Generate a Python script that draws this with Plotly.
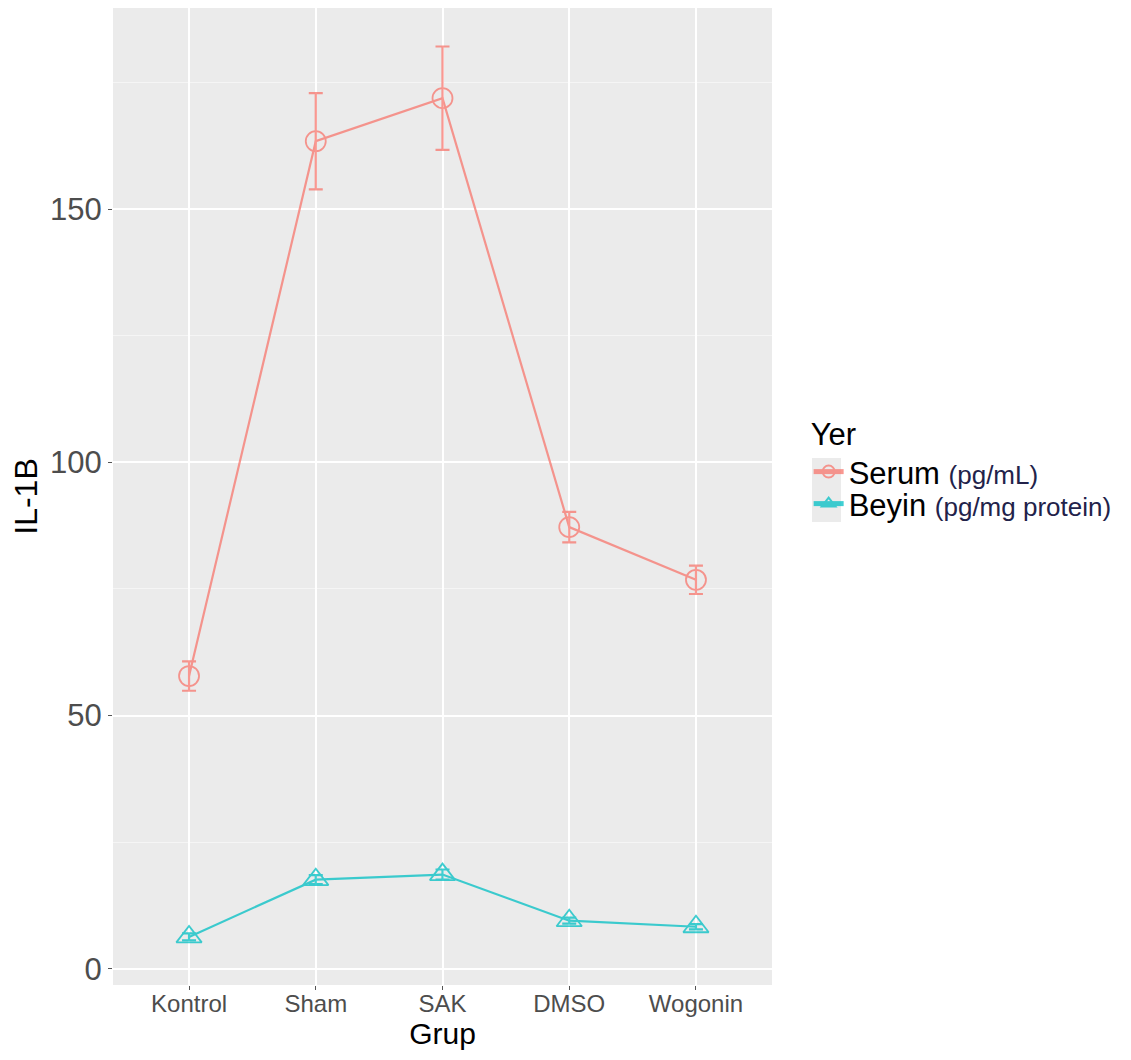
import plotly.graph_objects as go

groups = ["Kontrol", "Sham", "SAK", "DMSO", "Wogonin"]
serum_mean = [57.8, 163.4, 171.9, 87.2, 76.8]
serum_err = [2.9, 9.5, 10.2, 3.0, 2.8]
beyin_mean = [6.3, 17.6, 18.6, 9.5, 8.3]
beyin_err = [0.7, 0.9, 1.0, 0.6, 0.5]
y_ticks = [0, 50, 100, 150]

SERUM_COL = "#F8766D"
BEYIN_COL = "#00BFC4"

fig = go.Figure()
fig.add_trace(go.Scatter(
    x=groups, y=serum_mean, mode="lines+markers",
    name="Serum <span style='font-size:26px;color:#22224a'>(pg/mL)</span>",
    line=dict(color=SERUM_COL, width=2.2),
    marker=dict(symbol="circle-open", size=20, color=SERUM_COL, line=dict(width=1.8)),
    error_y=dict(type="data", array=serum_err, color=SERUM_COL, thickness=2.2, width=7),
    opacity=0.75, legend="legend",
))
fig.add_trace(go.Scatter(
    x=groups, y=beyin_mean, mode="lines+markers",
    name="Beyin <span style='font-size:26px;color:#22224a'>(pg/mg protein)</span>",
    line=dict(color=BEYIN_COL, width=2.2),
    marker=dict(symbol="triangle-up-open", size=22, color=BEYIN_COL, line=dict(width=1.8)),
    error_y=dict(type="data", array=beyin_err, color=BEYIN_COL, thickness=2.2, width=7),
    opacity=0.75, legend="legend2",
))

leg_common = dict(
    font=dict(size=31, color="black"),
    xanchor="left", yanchor="top",
    bgcolor="rgba(0,0,0,0)", itemsizing="constant",
)

fig.update_layout(
    width=1123, height=1052,
    margin=dict(l=105, r=359, t=0, b=75),
    paper_bgcolor="white",
    plot_bgcolor="#EBEBEB",
    font=dict(family="Liberation Sans, Arial, sans-serif", color="#4D4D4D"),
    showlegend=True,
    legend=dict(
        title=dict(text="Yer", font=dict(size=31, color="black")),
        x=1.0556, y=0.594, **leg_common,
    ),
    legend2=dict(
        x=1.0556, y=0.520, **leg_common,
    ),
    xaxis=dict(
        type="category", range=[-0.6, 4.6],
        showgrid=True, gridcolor="white", gridwidth=2,
        ticks="outside", ticklen=4, tickcolor="#555555", tickwidth=1.2,
        tickfont=dict(size=24, color="#4D4D4D"),
        ticklabelstandoff=-7,
        title=dict(text="Grup", font=dict(size=30, color="black"), standoff=6),
        zeroline=False, showline=False,
    ),
    yaxis=dict(
        range=[-3.2, 189.7], tickvals=y_ticks,
        showgrid=True, gridcolor="white", gridwidth=2,
        minor=dict(dtick=25, tick0=25, showgrid=True, gridcolor="#F5F5F5", gridwidth=1),
        ticks="outside", ticklen=4, tickcolor="#555555", tickwidth=1.2,
        tickfont=dict(size=31, color="#4D4D4D"),
        title=dict(text="IL-1B", font=dict(size=32, color="black"), standoff=20),
        zeroline=False, showline=False,
    ),
    shapes=[dict(
        type="rect", xref="paper", yref="paper",
        x0=(812 - 113) / 659, x1=(841 - 113) / 659,
        y0=(985 - 522) / 977, y1=(985 - 458) / 977,
        fillcolor="#EBEBEB", line=dict(width=0), layer="below",
    )],
)

fig.write_html("out.html")
